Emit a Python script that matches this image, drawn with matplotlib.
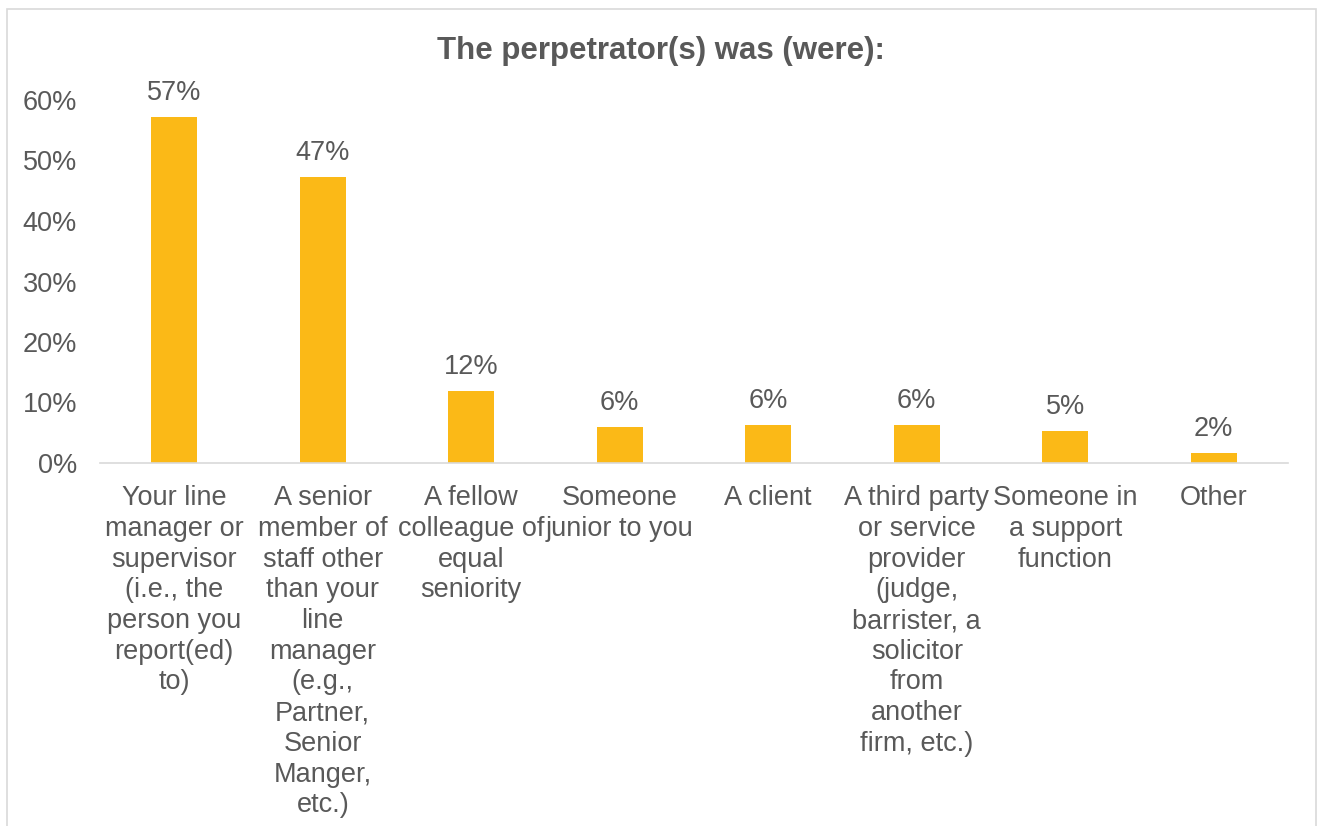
import matplotlib
matplotlib.use("Agg")
import matplotlib.pyplot as plt
from matplotlib.patches import Rectangle

categories = [
    "Your line\nmanager or\nsupervisor\n(i.e., the\nperson you\nreport(ed)\nto)",
    "A senior\nmember of\nstaff other\nthan your\nline\nmanager\n(e.g.,\nPartner,\nSenior\nManger,\netc.)",
    "A fellow\ncolleague of\nequal\nseniority",
    "Someone\njunior to you",
    "A client",
    "A third party\nor service\nprovider\n(judge,\nbarrister, a\nsolicitor\nfrom\nanother\nfirm, etc.)",
    "Someone in\na support\nfunction",
    "Other",
]
values = [0.572, 0.473, 0.119, 0.060, 0.063, 0.063, 0.053, 0.017]
labels = ["57%", "47%", "12%", "6%", "6%", "6%", "5%", "2%"]
yticks = [0, 0.1, 0.2, 0.3, 0.4, 0.5, 0.6]
ytick_labels = ["0%", "10%", "20%", "30%", "40%", "50%", "60%"]
title = "The perpetrator(s) was (were):"

plt.rcParams['font.family'] = ['Liberation Sans', 'DejaVu Sans']
grey = "#595959"
fs = 19.5

fig = plt.figure(figsize=(13.22, 8.26), dpi=100)
fig.patches.append(Rectangle((7/1322, -0.1), (1316-7)/1322, 1.1 - 9/826,
                             transform=fig.transFigure, fill=False,
                             edgecolor="#d9d9d9", linewidth=1.2))
ax = fig.add_axes([100/1322, 1 - 463/826, (1288 - 100)/1322, (463 - 100)/826])

x = list(range(len(categories)))
ax.bar(x, values, width=0.31, color="#FBB917")
for xi, v, lab in zip(x, values, labels):
    ax.annotate(lab, (xi, v), xytext=(0, 8), textcoords="offset points",
                ha="center", va="bottom", fontsize=fs, color=grey,
                annotation_clip=False)

ax.set_xlim(-0.5, len(categories) - 0.5)
ax.set_ylim(0, 0.6)
ax.set_yticks(yticks)
ax.set_yticklabels(ytick_labels, fontsize=fs, color=grey)
ax.set_xticks(x)
ax.set_xticklabels(categories, fontsize=fs, color=grey, linespacing=1.235)
ax.tick_params(axis="both", length=0)
ax.tick_params(axis="x", pad=16)
ax.tick_params(axis="y", pad=16.5)
for s in ["top", "right", "left"]:
    ax.spines[s].set_visible(False)
ax.spines["bottom"].set_color("#d9d9d9")
ax.spines["bottom"].set_linewidth(1.2)

fig.text(0.5, 1 - 51/826, title, ha="center", va="center", fontsize=22.5,
         fontweight="bold", color=grey)

fig.savefig("out.png", dpi=100)
